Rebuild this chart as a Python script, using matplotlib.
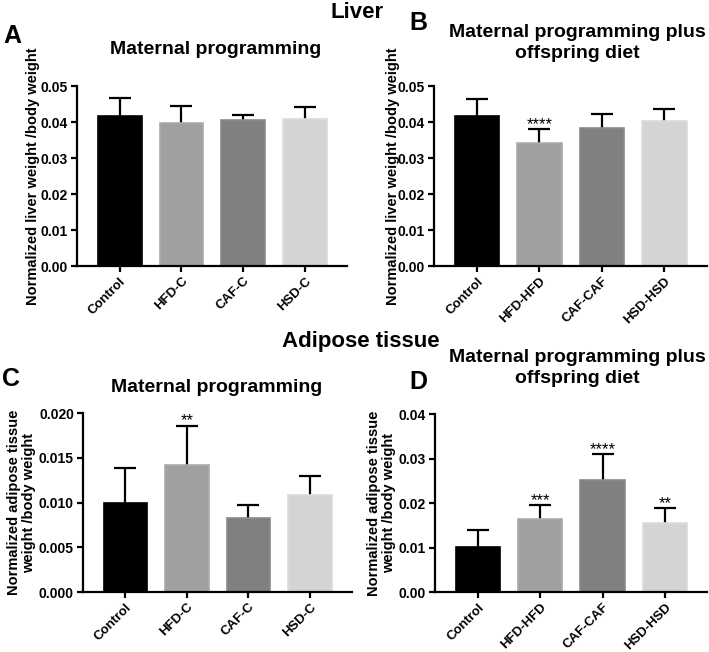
import numpy as np
import matplotlib.pyplot as plt

plt.rcParams['font.family'] = ['Liberation Sans', 'DejaVu Sans']
plt.rcParams['font.weight'] = 'bold'

# ---- data ----
grupos_mat = ["Control", "HFD-C", "CAF-C", "HSD-C"]
grupos_off = ["Control", "HFD-HFD", "CAF-CAF", "HSD-HSD"]

higado_mat = [0.0418, 0.0397, 0.0405, 0.0409]
higado_mat_err = [0.0048, 0.0047, 0.0015, 0.0032]
higado_off = [0.0418, 0.0343, 0.0384, 0.0403]
higado_off_err = [0.0047, 0.0038, 0.0038, 0.0033]
higado_off_sig = ["", "****", "", ""]

adiposo_mat = [0.0100, 0.0142, 0.0083, 0.0108]
adiposo_mat_err = [0.0039, 0.0044, 0.0014, 0.0022]
adiposo_mat_sig = ["", "**", "", ""]
adiposo_off = [0.0101, 0.0163, 0.0252, 0.0156]
adiposo_off_err = [0.0039, 0.0033, 0.0058, 0.0032]
adiposo_off_sig = ["", "***", "****", "**"]

colores = ["#000000", "#a0a0a0", "#808080", "#d4d4d4"]
bordes = ["#000000", "#acacac", "#8a8a8a", "#dcdcdc"]


def panel(ax, grupos, valores, errores, ymax, yticks, fmt, ylabel, xlab, sig=None):
    x = np.arange(len(grupos))
    ax.bar(x, valores, width=0.71, color=colores, edgecolor=bordes, linewidth=1.2, zorder=2)
    eb = ax.errorbar(x, valores, yerr=[np.zeros(len(valores)), errores], fmt="none",
                     ecolor="black", elinewidth=1.6, capsize=8, capthick=1.6, zorder=1)
    # solo la barra de error superior (quitar el cap de abajo)
    caps = eb[1]
    if len(caps) == 2:
        caps[0].set_visible(False)
    if sig is not None:
        for xi, v, e, s in zip(x, valores, errores, sig):
            if s:
                ax.text(xi, v + e, s, ha="center", va="baseline",
                        fontsize=12, fontweight="normal")
    ax.set_xlim(-0.69, 3.68)
    ax.set_ylim(0, ymax)
    ax.set_yticks(yticks)
    ax.set_yticklabels([fmt.format(t) for t in yticks], fontsize=10, fontweight="bold")
    ax.set_xticks(x)
    ax.set_xticklabels(grupos, rotation=45, ha="right", rotation_mode="anchor",
                       fontsize=9.5, fontweight="bold")
    ax.spines["top"].set_visible(False)
    ax.spines["right"].set_visible(False)
    ax.spines["left"].set_linewidth(1.6)
    ax.spines["bottom"].set_linewidth(1.6)
    ax.tick_params(axis="both", width=1.6, length=4.5, direction="out", pad=2)
    ax.set_ylabel(ylabel, fontsize=10.5, fontweight="bold", va="center", linespacing=1.1)
    ax.yaxis.set_label_coords(xlab, 0.5)


fig = plt.figure(figsize=(7.09, 6.52), dpi=100)

axA = fig.add_axes([0.1086, 0.592, 0.381, 0.276])
axB = fig.add_axes([0.612, 0.592, 0.385, 0.276])
axC = fig.add_axes([0.117, 0.092, 0.379, 0.2745])
axD = fig.add_axes([0.6135, 0.092, 0.384, 0.273])

yt_liver = [0.0, 0.01, 0.02, 0.03, 0.04, 0.05]
panel(axA, grupos_mat, higado_mat, higado_mat_err, 0.05, yt_liver, "{:.2f}",
      "Normalized liver weight /body weight", -0.163)
panel(axB, grupos_off, higado_off, higado_off_err, 0.05, yt_liver, "{:.2f}",
      "Normalized liver weight /body weight", -0.15, higado_off_sig)
panel(axC, grupos_mat, adiposo_mat, adiposo_mat_err, 0.02,
      [0.0, 0.005, 0.01, 0.015, 0.02], "{:.3f}",
      "Normalized adipose tissue\nweight /body weight", -0.23, adiposo_mat_sig)
panel(axD, grupos_off, adiposo_off, adiposo_off_err, 0.04,
      [0.0, 0.01, 0.02, 0.03, 0.04], "{:.2f}",
      "Normalized adipose tissue\nweight /body weight", -0.195, adiposo_off_sig)

W, H = 709, 652

def texto(px, py, s, size, **kw):
    fig.text(px / W, 1 - py / H, s, fontsize=size, fontweight="bold", va="center", **kw)

# titulos de seccion
texto(357, 12, "Liver", 16, ha="center")
texto(361, 341, "Adipose tissue", 16, ha="center")
# titulos de paneles
texto(216, 49, "Maternal programming", 14, ha="center")
texto(577, 43, "Maternal programming plus\noffspring diet", 14, ha="center", linespacing=1.25)
texto(217, 388, "Maternal programming", 14, ha="center")
texto(577, 368, "Maternal programming plus\noffspring diet", 14, ha="center", linespacing=1.25)
# letras
texto(3, 36, "A", 18, ha="left")
texto(409, 23, "B", 18, ha="left")
texto(2, 379, "C", 18, ha="left")
texto(409, 382, "D", 18, ha="left")

fig.savefig("out.png", dpi=100)
